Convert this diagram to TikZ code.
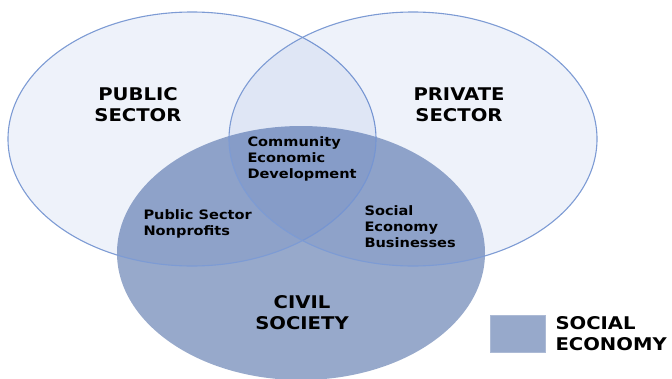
\documentclass[tikz,border=0pt]{standalone}
\usepackage{fontspec}
\setmainfont[FakeStretch=1.12]{DejaVu Sans}
\usepackage{tikz}

\definecolor{edgeblue}{RGB}{125,155,212}
\definecolor{tintblue}{RGB}{40,90,190}
\definecolor{civilblue}{RGB}{151,169,203}

\tikzset{
  biglabel/.style={font=\bfseries\fontsize{17.5}{21}\selectfont, align=center},
  smalllabel/.style={font=\bfseries\fontsize{13}{16}\selectfont, align=left}
}

\begin{document}
\begin{tikzpicture}[x=1pt,y=-1pt]

\useasboundingbox (0,0) rectangle (672,378);

% Draw the civil society ellipse first
\fill[civilblue] (301,253) ellipse [x radius=184, y radius=127];

% Draw the public and private sector ellipses on top
\filldraw[fill=tintblue, fill opacity=0.08, draw=edgeblue, line width=1.1pt] (192,139) ellipse [x radius=184, y radius=127];
\filldraw[fill=tintblue, fill opacity=0.08, draw=edgeblue, line width=1.1pt] (413,139) ellipse [x radius=184, y radius=127];

% Sector names
\node[biglabel] (public) at (138,105) {PUBLIC\\SECTOR};
\node[biglabel] (private) at (459,105) {PRIVATE\\SECTOR};
\node[biglabel] (civil) at (302,313) {CIVIL\\SOCIETY};

% Names of the overlaps
\node[smalllabel, anchor=west] (ced) at (244,159) {Community\\Economic\\Development};
\node[smalllabel, anchor=west] (nonprofits) at (140,224) {Public Sector\\Nonprofits};
\node[smalllabel, anchor=west] (businesses) at (361,227) {Social\\Economy\\Businesses};

% Legend
\filldraw[fill=civilblue, draw=civilblue!80!white] (490,315) rectangle (545,352) coordinate (keybox);
\node[biglabel, align=left, anchor=west] (legend) at (552,334) {SOCIAL\\ECONOMY};

\end{tikzpicture}
\end{document}
